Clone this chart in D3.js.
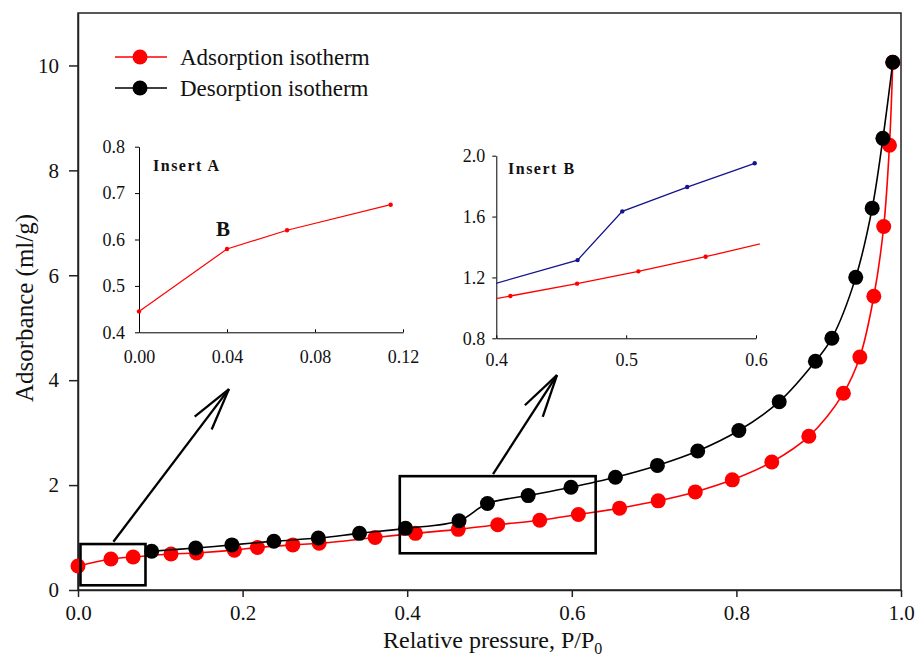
<!DOCTYPE html>
<html>
<head>
<meta charset="utf-8">
<script src="https://cdn.jsdelivr.net/npm/d3@7"></script>
<style>
  body { margin: 0; background: #fff; }
  svg text { font-family: "Liberation Serif", "Times New Roman", serif; fill: #111; }
</style>
</head>
<body>
<div id="chart"></div>
<script>
// Main isotherm data (relative pressure, adsorbance)
const adsX = [0.000, 0.040, 0.067, 0.113, 0.144, 0.190, 0.218, 0.261, 0.293, 0.361, 0.410, 0.462, 0.510, 0.561, 0.608, 0.658, 0.705, 0.750, 0.795, 0.843, 0.888, 0.930, 0.950, 0.967, 0.979, 0.986, 0.990];
const adsY = [0.457, 0.59, 0.63, 0.686, 0.705, 0.76, 0.81, 0.86, 0.89, 1.00, 1.08, 1.156, 1.245, 1.33, 1.44, 1.56, 1.70, 1.87, 2.10, 2.44, 2.93, 3.75, 4.44, 5.60, 6.93, 8.48, 10.06];
const desX = [0.0895, 0.143, 0.187, 0.238, 0.292, 0.342, 0.398, 0.463, 0.4975, 0.547, 0.599, 0.653, 0.704, 0.753, 0.803, 0.852, 0.896, 0.916, 0.945, 0.965, 0.978, 0.990];
const desY = [0.74, 0.80, 0.86, 0.93, 0.99, 1.08, 1.175, 1.32, 1.65, 1.80, 1.96, 2.15, 2.375, 2.65, 3.04, 3.59, 4.36, 4.80, 5.96, 7.28, 8.61, 10.06];

const xTicks = [0, 0.2, 0.4, 0.6, 0.8, 1.0];
const yTicks = [0, 2, 4, 6, 8, 10];

// Insert A (low pressure part of adsorption)
const insAX = [0.000, 0.040, 0.0673, 0.1144];
const insAY = [0.445, 0.5795, 0.620, 0.675];
const insAXTicks = [0, 0.04, 0.08, 0.12];
const insAYTicks = [0.4, 0.5, 0.6, 0.7, 0.8];

// Insert B (hysteresis region); first and last points lie outside the window
const insBAdsX = [0.361, 0.4108, 0.4622, 0.5094, 0.5612, 0.608];
const insBAdsY = [1.00, 1.078, 1.159, 1.240, 1.336, 1.43];
const insBDesX = [0.398, 0.4626, 0.497, 0.547, 0.599];
const insBDesY = [1.157, 1.314, 1.634, 1.794, 1.95];
const insBXTicks = [0.4, 0.5, 0.6];
const insBYTicks = [0.8, 1.2, 1.6, 2.0];

// Zoom boxes and arrows, in main data units
const boxes = [
  { x0: 0.003, x1: 0.082, y0: 0.09, y1: 0.876 },
  { x0: 0.391, x1: 0.629, y0: 0.70, y1: 2.17 }
];
const arrows = [
  { from: [0.043, 0.92], to: [0.1834, 3.83] },
  { from: [0.5043, 2.21], to: [0.582, 4.095] }
];

const legendItems = [
  { label: "Adsorption isotherm", color: "#ff0000" },
  { label: "Desorption isotherm", color: "#000000" }
];

const W = 916, H = 661;
const svg = d3.select("#chart").append("svg")
    .attr("width", W)
    .attr("height", H);

// Main scales
const x = d3.scaleLinear().domain([0, 1]).range([78, 901]);
const y = d3.scaleLinear().domain([0, 11]).range([590, 13]);

// Frame
svg.append("rect")
    .attr("x", x(0))
    .attr("y", y(11))
    .attr("width", x(1) - x(0))
    .attr("height", y(0) - y(11))
    .attr("fill", "none")
    .attr("stroke", "#222")
    .attr("stroke-width", 1.5);

// Axes
const xAxis = svg.append("g")
    .attr("transform", `translate(0,${y(0)})`)
    .call(d3.axisBottom(x).tickValues(xTicks).tickFormat(d3.format(".1f"))
        .tickSizeInner(7).tickSizeOuter(0).tickPadding(8));
const yAxis = svg.append("g")
    .attr("transform", `translate(${x(0)},0)`)
    .call(d3.axisLeft(y).tickValues(yTicks).tickFormat(d3.format("d"))
        .tickSizeInner(9).tickSizeOuter(0).tickPadding(10));
[xAxis, yAxis].forEach(g => {
  g.selectAll("text").style("font-size", "21px").attr("fill", "#111");
  g.selectAll("line, path").attr("stroke", "#222").attr("stroke-width", 1.5);
});

// Axis titles
const xTitle = svg.append("text")
    .attr("x", 383)
    .attr("y", 648)
    .style("font-size", "24px");
xTitle.append("tspan").text("Relative pressure, P/P");
xTitle.append("tspan").attr("dy", 6).style("font-size", "16px").text("0");

svg.append("text")
    .attr("transform", `translate(33,${308}) rotate(-90)`)
    .attr("text-anchor", "middle")
    .style("font-size", "25px")
    .text("Adsorbance (ml/g)");

// Curves
const smooth = d3.line()
    .x(d => x(d[0]))
    .y(d => y(d[1]))
    .curve(d3.curveCatmullRom.alpha(0.5));

const adsData = adsX.map((v, i) => [v, adsY[i]]);
const desData = desX.map((v, i) => [v, desY[i]]);

svg.append("path")
    .datum(adsData)
    .attr("d", smooth)
    .attr("fill", "none")
    .attr("stroke", "#ff0000")
    .attr("stroke-width", 1.6);
svg.append("g").selectAll("circle")
    .data(adsData)
    .enter().append("circle")
    .attr("cx", d => x(d[0]))
    .attr("cy", d => y(d[1]))
    .attr("r", 7.5)
    .attr("fill", "#ff0000");

svg.append("path")
    .datum(desData)
    .attr("d", smooth)
    .attr("fill", "none")
    .attr("stroke", "#000")
    .attr("stroke-width", 1.6);
svg.append("g").selectAll("circle")
    .data(desData)
    .enter().append("circle")
    .attr("cx", d => x(d[0]))
    .attr("cy", d => y(d[1]))
    .attr("r", 7.5)
    .attr("fill", "#000");

// Zoom boxes
svg.append("g").selectAll("rect")
    .data(boxes)
    .enter().append("rect")
    .attr("x", d => x(d.x0))
    .attr("y", d => y(d.y1))
    .attr("width", d => x(d.x1) - x(d.x0))
    .attr("height", d => y(d.y0) - y(d.y1))
    .attr("fill", "none")
    .attr("stroke", "#000")
    .attr("stroke-width", 2.6);

// Arrows with open heads
arrows.forEach(a => {
  const x1 = x(a.from[0]), y1 = y(a.from[1]);
  const x2 = x(a.to[0]), y2 = y(a.to[1]);
  const ang = Math.atan2(y1 - y2, x1 - x2);
  const len = 44, spread = 14 * Math.PI / 180;
  const g = svg.append("g").attr("stroke", "#000").attr("stroke-width", 2.3).attr("fill", "none");
  g.append("line").attr("x1", x1).attr("y1", y1).attr("x2", x2).attr("y2", y2);
  [ang - spread, ang + spread].forEach(t => {
    g.append("line")
        .attr("x1", x2).attr("y1", y2)
        .attr("x2", x2 + len * Math.cos(t))
        .attr("y2", y2 + len * Math.sin(t));
  });
});

// Legend
const legend = svg.append("g").attr("transform", "translate(115,57)");
const li = legend.selectAll("g")
    .data(legendItems)
    .enter().append("g")
    .attr("transform", (d, i) => `translate(0,${i * 31})`);
li.append("line")
    .attr("x1", 0).attr("x2", 52)
    .attr("stroke", d => d.color)
    .attr("stroke-width", 1.6);
li.append("circle")
    .attr("cx", 25)
    .attr("r", 7.5)
    .attr("fill", d => d.color);
li.append("text")
    .attr("x", 65)
    .attr("y", 8)
    .style("font-size", "23px")
    .text(d => d.label);

// Helper for inset axes
function styleInsetAxis(g, size) {
  g.selectAll("text").style("font-size", size + "px").attr("fill", "#111");
  g.selectAll("line, path").attr("stroke", "#000").attr("stroke-width", 1);
}

// Insert A
const xa = d3.scaleLinear().domain([0, 0.12]).range([139, 403]);
const ya = d3.scaleLinear().domain([0.4, 0.8]).range([332.3, 146.7]);
const gA = svg.append("g");
gA.append("g")
    .attr("transform", `translate(0,${ya(0.4)})`)
    .call(d3.axisBottom(xa).tickValues(insAXTicks).tickFormat(d3.format(".2f"))
        .tickSizeInner(-3).tickSizeOuter(0).tickPadding(18))
    .call(g => styleInsetAxis(g, 18));
gA.append("g")
    .attr("transform", `translate(${xa(0)},0)`)
    .call(d3.axisLeft(ya).tickValues(insAYTicks).tickFormat(d3.format(".1f"))
        .tickSizeInner(4).tickSizeOuter(0).tickPadding(10))
    .call(g => styleInsetAxis(g, 18));
const insAData = insAX.map((v, i) => [v, insAY[i]]);
gA.append("path")
    .datum(insAData)
    .attr("d", d3.line().x(d => xa(d[0])).y(d => ya(d[1])))
    .attr("fill", "none")
    .attr("stroke", "#ff0000")
    .attr("stroke-width", 1.2);
gA.selectAll("circle.pt")
    .data(insAData)
    .enter().append("circle")
    .attr("class", "pt")
    .attr("cx", d => xa(d[0]))
    .attr("cy", d => ya(d[1]))
    .attr("r", 2.2)
    .attr("fill", "#ff0000");
gA.append("text")
    .attr("x", 153)
    .attr("y", 171)
    .style("font-size", "16px")
    .style("font-weight", "bold")
    .style("letter-spacing", "1.5px")
    .text("Insert A");
gA.append("text")
    .attr("x", 216)
    .attr("y", 236)
    .style("font-size", "21px")
    .style("font-weight", "bold")
    .text("B");

// Insert B
const xb = d3.scaleLinear().domain([0.4, 0.6]).range([496.3, 756]);
const yb = d3.scaleLinear().domain([0.8, 2.0]).range([338.3, 155.7]);
const gB = svg.append("g");
gB.append("g")
    .attr("transform", `translate(0,${yb(0.8)})`)
    .call(d3.axisBottom(xb).tickValues(insBXTicks).tickFormat(d3.format(".1f"))
        .tickSizeInner(-3).tickSizeOuter(0).tickPadding(15))
    .call(g => styleInsetAxis(g, 18));
gB.append("g")
    .attr("transform", `translate(${xb(0.4)},0)`)
    .call(d3.axisLeft(yb).tickValues(insBYTicks).tickFormat(d3.format(".1f"))
        .tickSizeInner(4).tickSizeOuter(0).tickPadding(7))
    .call(g => styleInsetAxis(g, 18));

svg.append("clipPath").attr("id", "clipB")
  .append("rect")
    .attr("x", xb(0.4))
    .attr("y", yb(2.0) - 10)
    .attr("width", xb(0.6) - xb(0.4) + 4)
    .attr("height", yb(0.8) - yb(2.0) + 10);

const lineB = d3.line().x(d => xb(d[0])).y(d => yb(d[1]));
const bSeries = [
  { data: insBAdsX.map((v, i) => [v, insBAdsY[i]]), color: "#ff0000" },
  { data: insBDesX.map((v, i) => [v, insBDesY[i]]), color: "#14148c" }
];
bSeries.forEach(s => {
  gB.append("path")
      .datum(s.data)
      .attr("d", lineB)
      .attr("clip-path", "url(#clipB)")
      .attr("fill", "none")
      .attr("stroke", s.color)
      .attr("stroke-width", 1.3);
  gB.append("g").selectAll("circle")
      .data(s.data.filter(d => d[0] >= 0.4 && d[0] <= 0.6))
      .enter().append("circle")
      .attr("cx", d => xb(d[0]))
      .attr("cy", d => yb(d[1]))
      .attr("r", 2.2)
      .attr("fill", s.color);
});
gB.append("text")
    .attr("x", 508)
    .attr("y", 174)
    .style("font-size", "16px")
    .style("font-weight", "bold")
    .style("letter-spacing", "1.5px")
    .text("Insert B");
</script>
</body>
</html>
